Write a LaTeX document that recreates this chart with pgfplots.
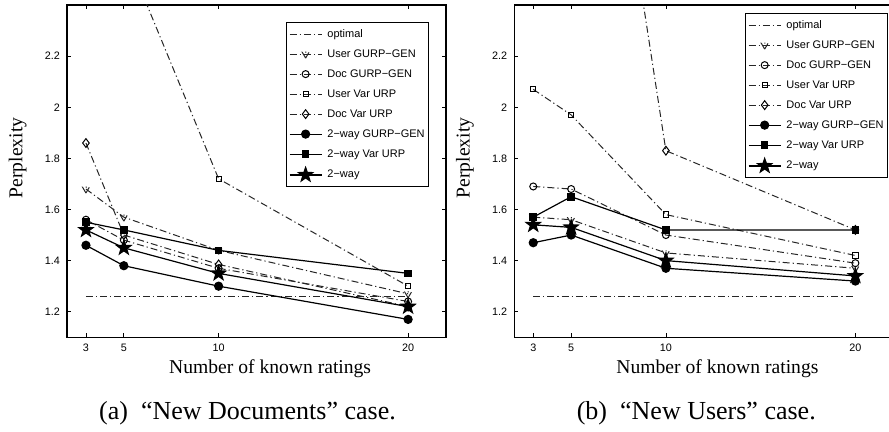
\documentclass[border=0pt]{standalone}
\usepackage{fontspec}
\setmainfont{Liberation Serif}
\newfontfamily\hel{Liberation Sans}
\usepackage{pgfplots}
\pgfplotsset{compat=1.18}

% filled five-point star
\pgfdeclareplotmark{fstar}{%
  \pgfpathmoveto{\pgfpointpolar{90}{\pgfplotmarksize}}%
  \pgfpathlineto{\pgfpointpolar{126}{0.4\pgfplotmarksize}}%
  \pgfpathlineto{\pgfpointpolar{162}{\pgfplotmarksize}}%
  \pgfpathlineto{\pgfpointpolar{198}{0.4\pgfplotmarksize}}%
  \pgfpathlineto{\pgfpointpolar{234}{\pgfplotmarksize}}%
  \pgfpathlineto{\pgfpointpolar{270}{0.4\pgfplotmarksize}}%
  \pgfpathlineto{\pgfpointpolar{306}{\pgfplotmarksize}}%
  \pgfpathlineto{\pgfpointpolar{342}{0.4\pgfplotmarksize}}%
  \pgfpathlineto{\pgfpointpolar{18}{\pgfplotmarksize}}%
  \pgfpathlineto{\pgfpointpolar{54}{0.4\pgfplotmarksize}}%
  \pgfpathclose
  \pgfusepathqfillstroke}

\pgfplotsset{
  panel/.style={
    scale only axis, width=189.5pt, height=166.15pt,
    xmin=2, xmax=22, ymin=1.1, ymax=2.4,
    xtick={3,5,10,20}, ytick={1.2,1.4,1.6,1.8,2,2.2},
    tick align=inside, major tick length=2pt,
    /pgf/number format/assume math mode=true,
    ticklabel style={font=\hel\fontsize{5.4}{6}\selectfont},
    axis line style={line width=0.6pt},
    tick style={line width=0.4pt, black},
    xlabel={Number of known ratings}, ylabel={Perplexity},
    label style={font=\fontsize{9.8}{11}\selectfont},
    xlabel style={at={(axis description cs:0.536,-0.095)}, anchor=center},
    ylabel style={at={(axis description cs:-0.13,0.54)}, anchor=center},
    legend cell align=left,
    legend style={anchor=north east, draw=black, line width=0.5pt,
      fill=white, font=\hel\fontsize{5.5}{6.5}\selectfont,
      inner xsep=1.5pt, inner ysep=2.7pt, row sep=3.4pt, column sep=2pt,
      nodes={inner sep=0.6pt, text height=4.2pt, text depth=1.2pt}},
    legend image code/.code={\draw[mark repeat=2,mark phase=2]
      plot coordinates {(0pt,0pt) (8pt,0pt) (16pt,0pt)};},
  },
  dd/.style={black!85, line width=0.5pt,
    dash pattern=on 3.5pt off 1.5pt on 0.6pt off 1.5pt},
  sl/.style={black, line width=0.6pt},
  hollow/.style={mark options={solid, draw=black, fill=white, line width=0.5pt}},
  full/.style={mark options={solid, draw=black, fill=black}},
}

\begin{document}
\begin{tikzpicture}

% (a) New Documents
\begin{axis}[panel, at={(33.5pt,47.35pt)}, anchor=south west,
  legend style={at={(axis description cs:0.956,0.950)}}]
\addplot[dd] coordinates {(3,1.26) (20,1.26)};
\addlegendentry{optimal}
\addplot[dd, hollow, mark=triangle, mark size=2pt, mark options={rotate=180}]
  coordinates {(3,1.68) (5,1.57) (10,1.44) (20,1.27)};
\addlegendentry{User GURP−GEN}
\addplot[dd, hollow, mark=o, mark size=1.75pt]
  coordinates {(3,1.56) (5,1.48) (10,1.37) (20,1.24)};
\addlegendentry{Doc GURP−GEN}
\addplot[dd, hollow, mark=square, mark size=1.3pt]
  coordinates {(3,3.10) (5,2.62) (10,1.72) (20,1.30)};
\addlegendentry{User Var URP}
\addplot[dd, hollow, mark=diamond, mark size=2.2pt]
  coordinates {(3,1.86) (5,1.50) (10,1.385) (20,1.22)};
\addlegendentry{Doc Var URP}
\addplot[sl, full, mark=*, mark size=2pt]
  coordinates {(3,1.46) (5,1.38) (10,1.30) (20,1.17)};
\addlegendentry{2−way GURP−GEN}
\addplot[sl, full, mark=square*, mark size=1.6pt]
  coordinates {(3,1.55) (5,1.52) (10,1.44) (20,1.35)};
\addlegendentry{2−way Var URP}
\addplot[sl, full, mark=fstar, mark size=3.7pt]
  coordinates {(3,1.52) (5,1.45) (10,1.35) (20,1.22)};
\addlegendentry{2−way}
\end{axis}

% (b) New Users
\begin{axis}[panel, at={(257.15pt,47.35pt)}, anchor=south west,
  legend style={at={(axis description cs:0.987,0.977)}}]
\addplot[dd] coordinates {(3,1.26) (20,1.26)};
\addlegendentry{optimal}
\addplot[dd, hollow, mark=triangle, mark size=2pt, mark options={rotate=180}]
  coordinates {(3,1.57) (5,1.56) (10,1.43) (20,1.37)};
\addlegendentry{User GURP−GEN}
\addplot[dd, hollow, mark=o, mark size=1.75pt]
  coordinates {(3,1.69) (5,1.68) (10,1.50) (20,1.39)};
\addlegendentry{Doc GURP−GEN}
\addplot[dd, hollow, mark=square, mark size=1.3pt]
  coordinates {(3,2.07) (5,1.97) (10,1.58) (20,1.42)};
\addlegendentry{User Var URP}
\addplot[dd, hollow, mark=diamond, mark size=2.2pt]
  coordinates {(3,4.60) (5,4.24) (10,1.83) (20,1.52)};
\addlegendentry{Doc Var URP}
\addplot[sl, full, mark=*, mark size=2pt]
  coordinates {(3,1.47) (5,1.50) (10,1.37) (20,1.32)};
\addlegendentry{2−way GURP−GEN}
\addplot[sl, full, mark=square*, mark size=1.6pt]
  coordinates {(3,1.57) (5,1.65) (10,1.52) (20,1.52)};
\addlegendentry{2−way Var URP}
\addplot[sl, full, mark=fstar, mark size=3.7pt]
  coordinates {(3,1.54) (5,1.53) (10,1.40) (20,1.34)};
\addlegendentry{2−way}
\end{axis}

\node[font=\fontsize{13}{15}\selectfont] at (123.75pt,9.5pt)
  {(a)\enspace “New Documents” case.};
\node[font=\fontsize{13}{15}\selectfont] at (348.15pt,9.5pt)
  {(b)\enspace “New Users” case.};

\pgfresetboundingbox
\path[use as bounding box] (0,0) rectangle (444.5pt,216pt);
\end{tikzpicture}
\end{document}
